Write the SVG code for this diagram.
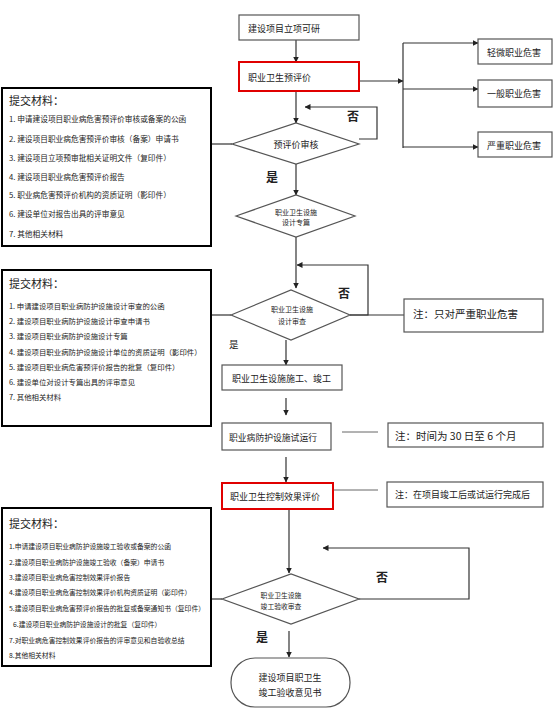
<svg xmlns="http://www.w3.org/2000/svg" width="556" height="719" viewBox="0 0 556 719">
<style>
text{font-family:"Noto Sans CJK SC","Noto Sans",sans-serif;fill:#222}
.box{fill:#fff;stroke:#555;stroke-width:1.2}
.red{fill:#fff;stroke:#e00000;stroke-width:2}
.mat{fill:#fff;stroke:#000;stroke-width:2}
.ln{fill:none;stroke:#333;stroke-width:1.2}
.gl{fill:none;stroke:#666;stroke-width:1}
.arr{marker-end:url(#ah)}
.t9{font-size:9px}
.hd{font-size:11px}
.lbl{font-size:12px;font-weight:bold}
</style>
<defs>
<marker id="ah" markerWidth="6" markerHeight="6" refX="5.5" refY="3" orient="auto" markerUnits="userSpaceOnUse">
<path d="M0,0 L6,3 L0,6 z" fill="#222"/>
</marker>
</defs>
<rect width="556" height="719" fill="#fff"/>
<g id="connectors">
<path class="ln arr" d="M296,40 V62"/>
<path class="ln arr" d="M359,81 H403"/>
<path class="ln" d="M403,43 V148"/>
<path class="ln arr" d="M403,43 H478"/>
<path class="ln arr" d="M403,89 H478"/>
<path class="ln arr" d="M403,147 H478"/>
<path class="ln arr" d="M296,91 V123"/>
<path class="ln arr" d="M359,139 H377 V107 H305"/>
<path class="ln arr" d="M296,164 V195"/>
<path class="ln" d="M211,144 H232"/>
<path class="ln arr" d="M296,237 V288"/>
<path class="ln arr" d="M350,315 H368 V265 H297"/>
<path class="ln" d="M211,315 H231"/>
<path class="ln" d="M350,315 H404"/>
<path class="ln arr" d="M286,340 V365"/>
<path class="ln arr" d="M286,398 V415"/>
<path class="gl" d="M342,432 H378"/>
<path class="ln arr" d="M286,457 V482"/>
<path class="gl" d="M333,490 H378"/>
<path class="ln arr" d="M289,509 V573"/>
<path class="ln arr" d="M359,599 H469 V548 H323"/>
<path class="ln" d="M211,599 H222"/>
<path class="ln arr" d="M289,631 V657"/>
<text class="lbl" x="347" y="121">否</text>
<text class="lbl" x="266" y="182">是</text>
<text class="lbl" x="338" y="298">否</text>
<text x="229" y="348" font-size="9.5">是</text>
<text class="lbl" x="376" y="582">否</text>
<text class="lbl" x="256" y="642">是</text>
</g>
<g id="start">
<rect class="box" x="239" y="15" width="120" height="25"/>
<text class="t9" x="248" y="28" dominant-baseline="central">建设项目立项可研</text>
</g>
<g id="pre-eval">
<rect class="red" x="239" y="62" width="120" height="29"/>
<text class="t9" x="248" y="77" dominant-baseline="central">职业卫生预评价</text>
</g>
<g id="hazard-light">
<rect class="box" x="478" y="39" width="74" height="25"/>
<text class="t9" x="487" y="52" dominant-baseline="central">轻微职业危害</text>
</g>
<g id="hazard-normal">
<rect class="box" x="478" y="80" width="74" height="27"/>
<text class="t9" x="487" y="93" dominant-baseline="central">一般职业危害</text>
</g>
<g id="hazard-severe">
<rect class="box" x="478" y="132" width="74" height="25"/>
<text class="t9" x="487" y="145" dominant-baseline="central">严重职业危害</text>
</g>
<g id="pre-review">
<polygon class="box" points="232,144 296,123 359,144 296,164"/>
<text class="t9" x="296" y="144" text-anchor="middle" dominant-baseline="central">预评价审核</text>
</g>
<g id="design-special">
<polygon class="box" points="236,216 296,195 355,216 296,237"/>
<text x="296" y="212" font-size="7" text-anchor="middle" dominant-baseline="central">职业卫生设施</text>
<text x="296" y="222" font-size="7" text-anchor="middle" dominant-baseline="central">设计专篇</text>
</g>
<g id="design-review">
<polygon class="box" points="231,315 291,290 350,315 291,340"/>
<text x="292" y="309" font-size="7" text-anchor="middle" dominant-baseline="central">职业卫生设施</text>
<text x="292" y="321" font-size="7" text-anchor="middle" dominant-baseline="central">设计审查</text>
</g>
<g id="note-severe">
<rect class="box" x="404" y="299" width="139" height="33"/>
<text x="413" y="313" font-size="10.5" dominant-baseline="central">注：只对严重职业危害</text>
</g>
<g id="construction">
<rect class="box" x="222" y="365" width="120" height="25"/>
<text class="t9" x="232" y="378" dominant-baseline="central">职业卫生设施施工、竣工</text>
</g>
<g id="trial-run">
<rect class="box" x="222" y="423" width="109" height="27"/>
<text x="229" y="437" font-size="8.8" dominant-baseline="central">职业病防护设施试运行</text>
</g>
<g id="note-time">
<rect class="box" x="388" y="423" width="155" height="24"/>
<text x="395" y="435" font-size="10.5" dominant-baseline="central">注：时间为 30 日至 6 个月</text>
</g>
<g id="control-eval">
<rect class="red" x="222" y="483" width="111" height="26"/>
<text class="t9" x="230" y="496" dominant-baseline="central">职业卫生控制效果评价</text>
</g>
<g id="note-after">
<rect class="box" x="387" y="482" width="156" height="25"/>
<text x="395" y="494" font-size="9" dominant-baseline="central">注：在项目竣工后或试运行完成后</text>
</g>
<g id="acceptance-review">
<polygon class="box" points="222,599 291,574 359,599 291,624"/>
<text x="281" y="595" font-size="6.8" text-anchor="middle" dominant-baseline="central">职业卫生设施</text>
<text x="281" y="606" font-size="6.8" text-anchor="middle" dominant-baseline="central">竣工验收审查</text>
</g>
<g id="final">
<rect class="box" x="231" y="658" width="119" height="49" rx="24" ry="24"/>
<text class="t9" x="290" y="677" text-anchor="middle" dominant-baseline="central">建设项目职卫生</text>
<text class="t9" x="290" y="692" text-anchor="middle" dominant-baseline="central">竣工验收意见书</text>
</g>
<g id="materials-1">
<rect class="mat" x="2" y="88" width="209" height="158"/>
<text class="hd" x="9" y="100" dominant-baseline="central">提交材料：</text>
<g font-size="7.7">
<text x="9" y="118" dominant-baseline="central">1. 申请建设项目职业病危害预评价审核或备案的公函</text>
<text x="9" y="138" dominant-baseline="central">2. 建设项目职业病危害预评价审核（备案）申请书</text>
<text x="9" y="157" dominant-baseline="central">3. 建设项目立项预审批相关证明文件（复印件）</text>
<text x="9" y="176" dominant-baseline="central">4. 建设项目职业病危害预评价报告</text>
<text x="9" y="194" dominant-baseline="central">5. 职业病危害预评价机构的资质证明（影印件）</text>
<text x="9" y="213" dominant-baseline="central">6. 建设单位对报告出具的评审意见</text>
<text x="9" y="233" dominant-baseline="central">7. 其他相关材料</text>
</g>
</g>
<g id="materials-2">
<rect class="mat" x="2" y="270" width="209" height="156"/>
<text class="hd" x="9" y="283" dominant-baseline="central">提交材料：</text>
<g font-size="7.4">
<text x="9" y="305" dominant-baseline="central">1. 申请建设项目职业病防护设施设计审查的公函</text>
<text x="9" y="320" dominant-baseline="central">2. 建设项目职业病防护设施设计审查申请书</text>
<text x="9" y="335" dominant-baseline="central">3. 建设项目职业病防护设施设计专篇</text>
<text x="9" y="351" dominant-baseline="central">4. 建设项目职业病防护设施设计单位的资质证明（影印件）</text>
<text x="9" y="366" dominant-baseline="central">5. 建设项目职业病危害预评价报告的批复（复印件）</text>
<text x="9" y="381" dominant-baseline="central">6. 建设单位对设计专篇出具的评审意见</text>
<text x="9" y="396" dominant-baseline="central">7. 其他相关材料</text>
</g>
</g>
<g id="materials-3">
<rect class="mat" x="2" y="508" width="209" height="158"/>
<text class="hd" x="9" y="523" dominant-baseline="central">提交材料：</text>
<g font-size="6.8">
<text x="9" y="546" dominant-baseline="central">1.申请建设项目职业病防护设施竣工验收或备案的公函</text>
<text x="9" y="562" dominant-baseline="central">2.建设项目职业病防护设施竣工验收（备案）申请书</text>
<text x="9" y="577" dominant-baseline="central">3.建设项目职业病危害控制效果评价报告</text>
<text x="9" y="592" dominant-baseline="central">4.建设项目职业病危害控制效果评价机构资质证明（影印件）</text>
<text x="9" y="608" dominant-baseline="central">5.建设项目职业病危害预评价报告的批复或备案通知书（复印件）</text>
<text x="13" y="624" dominant-baseline="central">6.建设项目职业病防护设施设计的批复（复印件）</text>
<text x="9" y="640" dominant-baseline="central">7.对职业病危害控制效果评价报告的评审意见和自验收总结</text>
<text x="9" y="655" dominant-baseline="central">8.其他相关材料</text>
</g>
</g>
</svg>
